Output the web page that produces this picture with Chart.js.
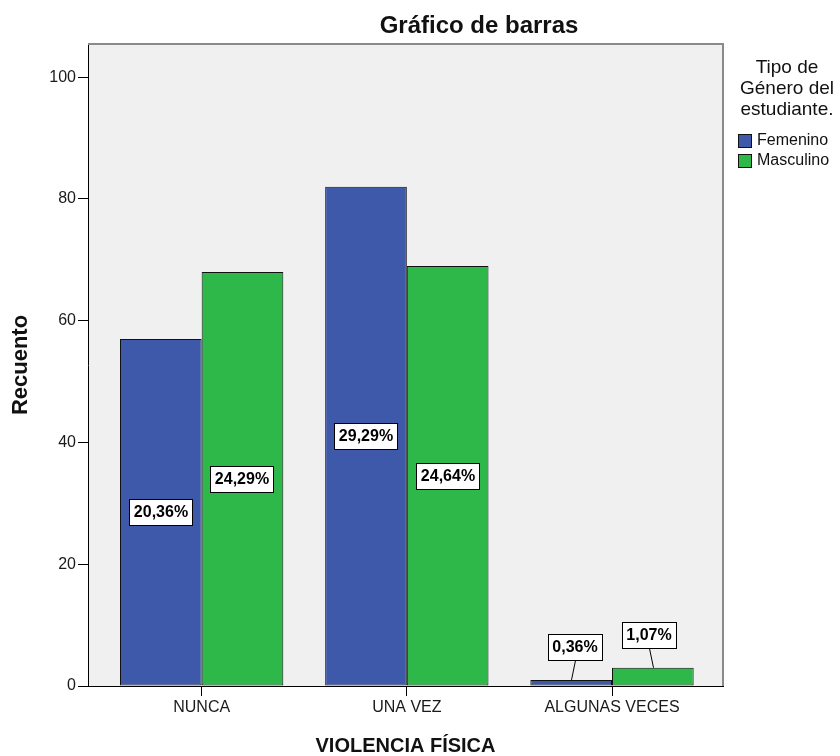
<!DOCTYPE html>
<html>
<head>
<meta charset="utf-8">
<script src="https://cdn.jsdelivr.net/npm/chart.js@4/dist/chart.umd.min.js"></script>
<style>
  html, body { margin: 0; padding: 0; background: #fff; }
  #wrap { width: 840px; height: 756px; }
</style>
</head>
<body>
<div id="wrap"><canvas id="bars" width="840" height="756"></canvas></div>
<script>
const categories = ['NUNCA', 'UNA VEZ', 'ALGUNAS VECES'];
const femenino = [57, 82, 1];
const masculino = [68, 69, 3];
const yTicks = [0, 20, 40, 60, 80, 100];
const total = 280;

const FONT = "'Liberation Sans', Arial, sans-serif";
const BLUE = 'rgb(62, 88, 170)';
const GREEN = 'rgb(46, 184, 74)';

const toPoints = arr => arr.map((v, i) => ({ x: i, y: v }));
const pctText = v => (v / total * 100).toFixed(2).replace('.', ',') + '%';

// fondo gris del area, bordes y titulo
const frame = {
  id: 'frame',
  beforeDraw(chart) {
    const { ctx, chartArea: a } = chart;
    ctx.save();
    ctx.fillStyle = '#fff';
    ctx.fillRect(0, 0, chart.width, chart.height);
    ctx.fillStyle = '#f0f0f0';
    ctx.fillRect(a.left, a.top, a.right - a.left, a.bottom - a.top);
    ctx.restore();
  },
  afterDraw(chart) {
    const { ctx, chartArea: a } = chart;
    ctx.save();
    ctx.strokeStyle = '#8a8a8a';
    ctx.lineWidth = 2;
    ctx.beginPath();
    ctx.moveTo(a.left, a.top);
    ctx.lineTo(a.right, a.top);
    ctx.lineTo(a.right, a.bottom);
    ctx.stroke();

    ctx.fillStyle = '#111';
    ctx.font = 'bold 24px ' + FONT;
    ctx.textAlign = 'center';
    ctx.textBaseline = 'alphabetic';
    ctx.fillText('Gráfico de barras', 479, 33);

    // leyenda
    ctx.font = '19px ' + FONT;
    ctx.textBaseline = 'middle';
    ['Tipo de', 'Género del', 'estudiante.'].forEach((t, i) => {
      ctx.fillText(t, 787, 68 + i * 21);
    });
    ctx.font = '16px ' + FONT;
    ctx.textAlign = 'left';
    chart.data.datasets.forEach((ds, i) => {
      const y = 141 + i * 20;
      ctx.fillStyle = ds.backgroundColor;
      ctx.fillRect(738, y - 7, 14, 14);
      ctx.strokeStyle = '#111';
      ctx.lineWidth = 1;
      ctx.strokeRect(738.5, y - 6.5, 13, 13);
      ctx.fillStyle = '#111';
      ctx.fillText(ds.label, 757, y);
    });
    ctx.restore();
  }
};

// etiquetas de porcentaje
const pctLabels = {
  id: 'pctLabels',
  afterDatasetsDraw(chart) {
    const { ctx } = chart;
    ctx.save();
    ctx.font = 'bold 16px ' + FONT;
    ctx.textAlign = 'center';
    ctx.textBaseline = 'middle';
    chart.data.datasets.forEach((ds, di) => {
      chart.getDatasetMeta(di).data.forEach((bar, i) => {
        const txt = pctText(ds.data[i].y);
        const w = Math.round(ctx.measureText(txt).width) + 10;
        const h = 27;
        const bx = Math.round(bar.x);
        let cx = bx, cy;
        if (bar.base - bar.y > 40) {
          cy = Math.round((bar.y + bar.base) / 2);
        } else {
          // barras pequeñas: caja arriba con linea guia
          cx = bx + (di === 0 ? 4 : -4);
          cy = Math.round(bar.y - 19 - h / 2);
          ctx.strokeStyle = '#000';
          ctx.lineWidth = 1;
          ctx.beginPath();
          ctx.moveTo(bx + 0.5, bar.y);
          ctx.lineTo(cx + 0.5, cy + h / 2);
          ctx.stroke();
        }
        const x0 = Math.round(cx - w / 2), y0 = Math.round(cy - h / 2);
        ctx.fillStyle = '#fff';
        ctx.fillRect(x0, y0, w, h);
        ctx.strokeStyle = '#000';
        ctx.lineWidth = 1;
        ctx.strokeRect(x0 + 0.5, y0 + 0.5, w - 1, h - 1);
        ctx.fillStyle = '#000';
        ctx.fillText(txt, cx, cy + 1);
      });
    });
    ctx.restore();
  }
};

new Chart(document.getElementById('bars'), {
  type: 'bar',
  data: {
    datasets: [{
      label: 'Femenino',
      data: toPoints(femenino),
      backgroundColor: BLUE,
      borderColor: '#111',
      borderWidth: 1,
      borderSkipped: false
    }, {
      label: 'Masculino',
      data: toPoints(masculino),
      backgroundColor: GREEN,
      borderColor: '#111',
      borderWidth: 1,
      borderSkipped: false
    }]
  },
  options: {
    responsive: false,
    animation: false,
    categoryPercentage: 0.796,
    barPercentage: 1,
    layout: { padding: { top: 44, right: 117, left: 0, bottom: 0 } },
    plugins: {
      legend: { display: false },
      title: { display: false },
      tooltip: { enabled: false }
    },
    scales: {
      x: {
        type: 'linear',
        offset: false,
        min: -0.554,
        max: 2.541,
        afterBuildTicks: s => { s.ticks = categories.map((c, i) => ({ value: i })); },
        afterFit: s => { s.height = 70; },
        grid: { offset: false, drawOnChartArea: false, drawTicks: true, tickLength: 10, color: '#000' },
        border: { display: true, color: '#000', width: 1 },
        ticks: {
          padding: 2,
          color: '#1a1a1a',
          font: { family: FONT, size: 16 },
          callback: v => categories[v]
        },
        title: {
          display: true,
          text: 'VIOLENCIA FÍSICA',
          color: '#111',
          font: { family: FONT, size: 20, weight: 'bold', lineHeight: 1 },
          padding: { top: 0, bottom: 0 }
        }
      },
      y: {
        min: 0,
        max: 105.46,
        afterBuildTicks: s => { s.ticks = yTicks.map(v => ({ value: v })); },
        afterFit: s => { s.width = 88; },
        grid: { drawOnChartArea: false, drawTicks: true, tickLength: 10, color: '#000' },
        border: { display: true, color: '#000', width: 1 },
        ticks: {
          padding: 2,
          color: '#1a1a1a',
          font: { family: FONT, size: 16 }
        },
        title: {
          display: true,
          text: 'Recuento',
          color: '#111',
          font: { family: FONT, size: 22, weight: 'bold', lineHeight: 1 },
          padding: { top: 10, bottom: 0 }
        }
      }
    }
  },
  plugins: [frame, pctLabels]
});
</script>
</body>
</html>
